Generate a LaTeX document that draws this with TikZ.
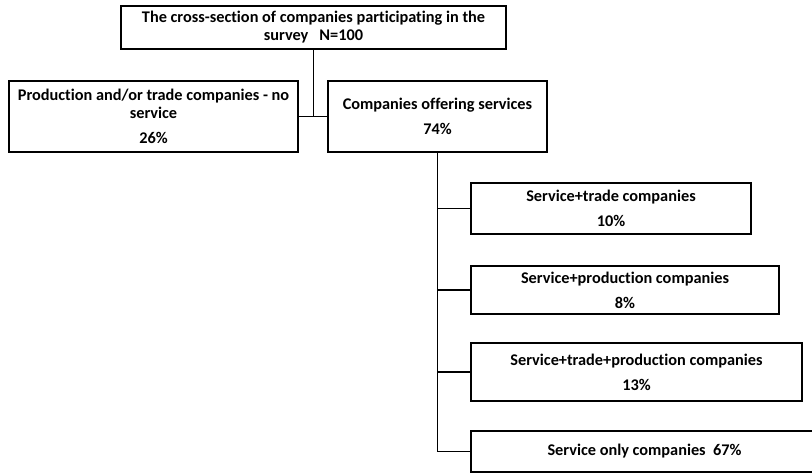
\documentclass[tikz,border=0pt]{standalone}
\usepackage{fontspec}
\setmainfont[Ligatures={NoCommon,NoRare}]{Carlito}
\usepackage{tikz}
\usetikzlibrary{shapes,arrows,positioning,calc,matrix}
\usepackage{xcolor}

\begin{document}
\begin{tikzpicture}[x=1pt,y=-1pt,
    box/.style={draw, line width=1.4pt, align=center, inner sep=2pt,
        font=\bfseries\fontsize{16.3}{18}\selectfont},
    link/.style={line width=1.3pt}]
            \useasboundingbox (0,0) rectangle (812,473);
            \clip (0,0) rectangle (812,473);

            % whole sample
            \node[box, minimum width=385pt, minimum height=43pt] (survey) at (313.5,27.5)
                {The cross-section of companies participating in the\\survey\ \ \ N=100};

            % first split
            \node[box, minimum width=289pt, minimum height=71pt] (noserv) at (153.5,116.5)
                {Production and/or trade companies - no\\service\\[7pt]26\%};
            \node[box, minimum width=219pt, minimum height=71pt] (offer) at (437.5,116.5)
                {Companies offering services\\[7pt]74\%};

            % service companies
            \node[box, minimum width=280pt, minimum height=51pt] (trade) at (611,208.5)
                {Service+trade companies\\[7pt]10\%};
            \node[box, minimum width=308pt, minimum height=48pt] (prod) at (625,290)
                {Service+production companies\\[7pt]8\%};
            \node[box, minimum width=331pt, minimum height=58pt] (tradeprod) at (636.5,372)
                {Service+trade+production companies\\[7pt]13\%};
            \node[box, minimum width=347pt, minimum height=41pt] (only) at (644.5,451.5)
                {Service only companies\ \ 67\%};

            % Lines
            \draw[link] (survey.south) -- (survey.south |- noserv.east);
            \draw[link] (noserv.east) -- (offer.west);
            \draw[link] (offer.south) |- (only.west);
            \draw[link] (offer.south |- trade.west) -- (trade.west);
            \draw[link] (offer.south |- prod.west) -- (prod.west);
            \draw[link] (offer.south |- tradeprod.west) -- (tradeprod.west);
        \end{tikzpicture}
\end{document}
